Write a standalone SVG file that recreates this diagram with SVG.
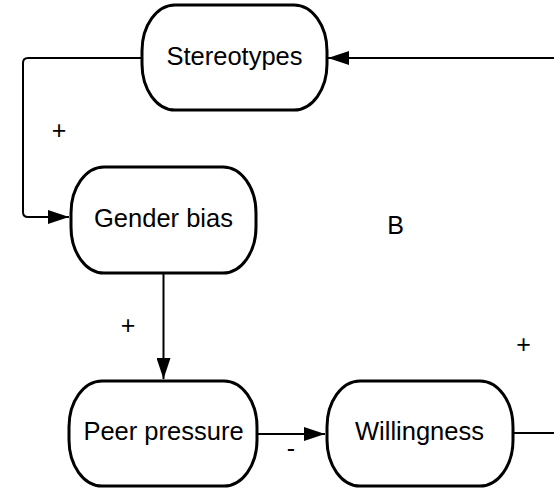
<svg xmlns="http://www.w3.org/2000/svg" width="554" height="488" viewBox="0 0 554 488">
<style>
.node rect{fill:#fff;stroke:#000;stroke-width:3}
.node text{font-family:"Liberation Sans",Arial,sans-serif;font-size:25.5px;fill:#000;text-anchor:middle}
.lbl{font-family:"Liberation Sans",Arial,sans-serif;font-size:25px;fill:#000;text-anchor:middle}
.conn path{fill:none;stroke:#000;stroke-width:2}
</style>
<defs>
<marker id="arr" viewBox="0 0 21 14" refX="21" refY="7" markerWidth="21" markerHeight="14" markerUnits="userSpaceOnUse" orient="auto">
<path d="M0,0 L21,7 L0,14 Z" fill="#000"/>
</marker>
</defs>
<rect width="554" height="488" fill="#fff"/>
<g class="conn">
<path d="M142,58 H28 Q23,58 23,63 V212 Q23,217 28,217 H69" marker-end="url(#arr)"/>
<path d="M163.5,273 V379" marker-end="url(#arr)"/>
<path d="M257,434 H325" marker-end="url(#arr)"/>
<path d="M513,433 H556"/>
<path d="M556,58 H328" marker-end="url(#arr)"/>
</g>
<g id="stereotypes" class="node">
<rect x="142" y="5" width="185" height="105" rx="33" ry="46"/>
<text x="234.5" y="65">Stereotypes</text>
</g>
<g id="gender-bias" class="node">
<rect x="71" y="167" width="185" height="106" rx="33" ry="46"/>
<text x="163.5" y="227">Gender bias</text>
</g>
<g id="peer-pressure" class="node">
<rect x="69" y="381" width="188" height="105" rx="33" ry="46"/>
<text x="163.5" y="440">Peer pressure</text>
</g>
<g id="willingness" class="node">
<rect x="327" y="381" width="186" height="105" rx="33" ry="46"/>
<text x="419.5" y="440">Willingness</text>
</g>
<g id="labels">
<text class="lbl" x="59" y="139">+</text>
<text class="lbl" x="128" y="334">+</text>
<text class="lbl" x="395.5" y="234">B</text>
<text class="lbl" x="523.5" y="353">+</text>
<text class="lbl" x="291" y="457">-</text>
</g>
</svg>
